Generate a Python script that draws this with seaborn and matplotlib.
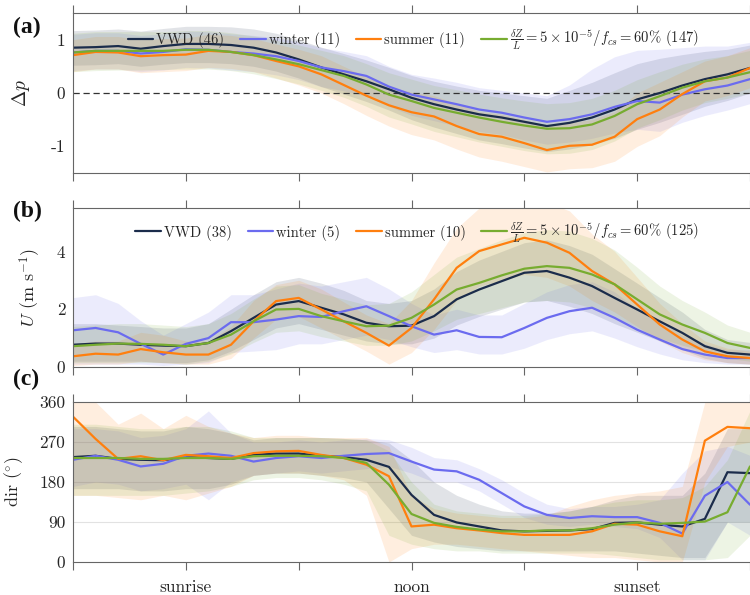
import numpy as np
import pandas as pd
import matplotlib
matplotlib.use("Agg")
import matplotlib.pyplot as plt
import seaborn as sns

# ---------------- data ----------------
hours = [0.8 * i for i in range(31)]
xtick_pos = [0, 4, 8, 12, 16, 20, 24]
xtick_lab = ["", "sunrise", "", "noon", "", "sunset", ""]

series_names = ["VWD", "winter", "summer", "green"]
colors = {"VWD": "#1b2c4b", "winter": "#6b6bef", "summer": "#ff7f0e", "green": "#77ac30"}

labels_a = ["VWD (46)", "winter (11)", "summer (11)",
            r"$\frac{\delta Z}{L} = 5\times10^{-5}/f_{cs} = 60\%$ (147)"]
labels_b = ["VWD (38)", "winter (5)", "summer (10)",
            r"$\frac{\delta Z}{L} = 5\times10^{-5}/f_{cs} = 60\%$ (125)"]

# panel (a): Delta p
vwd_a = [0.85,0.86,0.88,0.83,0.88,0.92,0.92,0.90,0.85,0.76,0.63,0.48,0.35,0.22,0.07,-0.09,-0.21,-0.31,-0.40,-0.46,-0.54,-0.62,-0.56,-0.46,-0.31,-0.12,0.00,0.14,0.26,0.35,0.47]
vwd_a_lo = [0.52,0.53,0.55,0.50,0.54,0.57,0.57,0.55,0.50,0.41,0.28,0.12,-0.02,-0.16,-0.32,-0.50,-0.64,-0.76,-0.88,-0.95,-1.03,-1.10,-1.05,-0.97,-0.85,-0.68,-0.55,-0.40,-0.25,-0.14,0.00]
vwd_a_hi = [1.17,1.18,1.20,1.16,1.21,1.25,1.25,1.24,1.20,1.12,1.00,0.86,0.74,0.62,0.48,0.33,0.22,0.13,0.05,0.00,-0.05,-0.10,0.05,0.20,0.38,0.55,0.65,0.72,0.78,0.82,0.90]
win_a = [0.76,0.79,0.79,0.74,0.77,0.82,0.81,0.77,0.74,0.69,0.60,0.48,0.41,0.32,0.12,-0.03,-0.12,-0.21,-0.31,-0.37,-0.46,-0.54,-0.49,-0.40,-0.26,-0.15,-0.18,-0.03,0.07,0.14,0.26]
win_a_lo = [0.42,0.45,0.45,0.40,0.43,0.48,0.47,0.43,0.40,0.34,0.25,0.12,0.04,-0.06,-0.25,-0.42,-0.52,-0.62,-0.72,-0.78,-0.88,-0.96,-0.92,-0.85,-0.75,-0.68,-0.72,-0.55,-0.42,-0.32,-0.20]
win_a_hi = [1.10,1.13,1.13,1.08,1.11,1.16,1.15,1.11,1.08,1.04,0.96,0.85,0.78,0.70,0.50,0.35,0.28,0.20,0.10,0.05,0.00,-0.05,0.15,0.45,0.68,0.80,0.82,0.85,0.88,0.88,0.95]
sum_a = [0.71,0.77,0.76,0.69,0.71,0.72,0.79,0.77,0.71,0.60,0.50,0.35,0.15,-0.05,-0.23,-0.36,-0.44,-0.62,-0.77,-0.82,-0.94,-1.07,-0.99,-0.97,-0.82,-0.49,-0.31,-0.02,0.22,0.29,0.47]
sum_a_lo = [0.40,0.45,0.45,0.38,0.40,0.42,0.48,0.46,0.40,0.28,0.15,0.00,-0.20,-0.42,-0.62,-0.78,-0.88,-1.05,-1.20,-1.28,-1.38,-1.48,-1.42,-1.40,-1.28,-1.00,-0.80,-0.45,-0.15,-0.05,0.10]
sum_a_hi = [1.00,1.06,1.06,1.00,1.02,1.03,1.10,1.08,1.02,0.92,0.82,0.70,0.50,0.30,0.12,0.02,-0.05,-0.20,-0.35,-0.40,-0.50,-0.62,-0.55,-0.50,-0.35,0.00,0.20,0.40,0.60,0.70,0.85]
grn_a = [0.76,0.79,0.79,0.79,0.79,0.81,0.81,0.77,0.71,0.63,0.54,0.43,0.32,0.16,-0.03,-0.15,-0.28,-0.37,-0.46,-0.54,-0.61,-0.67,-0.66,-0.59,-0.43,-0.21,-0.06,0.10,0.22,0.29,0.39]
grn_a_lo = [0.40,0.42,0.43,0.43,0.44,0.45,0.45,0.42,0.36,0.27,0.17,0.05,-0.08,-0.25,-0.45,-0.58,-0.72,-0.82,-0.92,-1.00,-1.08,-1.14,-1.13,-1.06,-0.90,-0.66,-0.50,-0.32,-0.18,-0.10,0.00]
grn_a_hi = [1.12,1.15,1.15,1.15,1.15,1.17,1.17,1.13,1.07,0.99,0.90,0.80,0.70,0.55,0.38,0.26,0.14,0.06,-0.02,-0.09,-0.15,-0.20,-0.18,-0.10,0.05,0.25,0.40,0.54,0.64,0.70,0.80]

# panel (b): U (m/s)
vwd_b = [0.77,0.81,0.81,0.77,0.74,0.72,0.83,1.24,1.70,2.16,2.28,2.05,1.82,1.53,1.41,1.43,1.76,2.34,2.68,2.97,3.26,3.32,3.09,2.80,2.39,1.99,1.58,1.18,0.72,0.49,0.43]
vwd_b_lo = [0.20,0.20,0.20,0.20,0.15,0.15,0.25,0.55,0.95,1.35,1.50,1.30,1.10,0.90,0.80,0.80,1.00,1.45,1.75,2.00,2.25,2.30,2.10,1.85,1.50,1.20,0.90,0.60,0.30,0.15,0.10]
vwd_b_hi = [1.50,1.50,1.45,1.40,1.35,1.35,1.50,2.00,2.50,2.95,3.10,2.90,2.65,2.30,2.20,2.30,2.70,3.30,3.70,4.00,4.30,4.40,4.20,3.90,3.40,2.90,2.40,1.90,1.30,0.95,0.85]
win_b = [1.27,1.35,1.20,0.80,0.43,0.80,1.00,1.55,1.55,1.64,1.76,1.73,1.93,2.10,1.76,1.41,1.12,1.27,1.04,1.03,1.35,1.70,1.93,2.05,1.70,1.29,0.95,0.62,0.43,0.31,0.31]
win_b_lo = [0.10,0.10,0.10,0.10,0.05,0.10,0.15,0.50,0.55,0.60,0.80,0.80,0.95,1.10,0.95,0.70,0.50,0.60,0.45,0.45,0.65,0.95,1.15,1.25,1.00,0.70,0.45,0.25,0.15,0.10,0.10]
win_b_hi = [2.40,2.50,2.20,1.60,1.10,1.50,1.90,2.50,2.50,2.70,2.90,2.80,2.95,3.10,2.70,2.20,1.80,2.00,1.80,1.80,2.20,2.60,2.85,2.95,2.60,2.00,1.60,1.10,0.80,0.60,0.60]
sum_b = [0.37,0.46,0.43,0.62,0.51,0.43,0.43,0.77,1.58,2.28,2.39,1.99,1.58,1.18,0.74,1.35,2.34,3.43,4.01,4.24,4.47,4.30,3.95,3.32,2.86,2.16,1.47,0.95,0.54,0.37,0.31]
sum_b_lo = [0.05,0.10,0.10,0.20,0.15,0.10,0.10,0.30,1.00,1.65,1.75,1.35,0.95,0.55,0.10,0.50,1.30,2.30,2.80,3.00,3.20,3.10,2.80,2.30,1.90,1.40,0.90,0.50,0.25,0.15,0.10]
sum_b_hi = [0.80,0.90,0.90,1.20,1.10,0.90,0.90,1.40,2.30,2.85,3.00,2.70,2.25,1.80,1.50,2.30,3.60,4.80,5.50,5.60,5.80,5.70,5.40,4.60,4.00,3.10,2.20,1.50,0.90,0.65,0.55]
grn_b = [0.72,0.77,0.81,0.80,0.77,0.72,0.83,1.12,1.58,1.99,2.01,1.76,1.58,1.41,1.43,1.70,2.16,2.68,2.91,3.17,3.40,3.49,3.43,3.20,2.86,2.34,1.82,1.47,1.18,0.83,0.66]
grn_b_lo = [0.15,0.15,0.15,0.15,0.15,0.10,0.20,0.45,0.85,1.20,1.25,1.05,0.90,0.75,0.75,0.90,1.25,1.65,1.85,2.05,2.25,2.30,2.25,2.05,1.75,1.35,1.00,0.75,0.55,0.30,0.20]
grn_b_hi = [1.40,1.45,1.50,1.50,1.45,1.40,1.50,1.85,2.35,2.80,2.85,2.55,2.35,2.15,2.20,2.60,3.20,3.80,4.10,4.40,4.65,4.75,4.70,4.45,4.05,3.45,2.80,2.30,1.90,1.45,1.20]

# panel (c): direction (deg)
vwd_c = [236,239,232,230,229,236,234,232,241,244,244,239,236,230,214,151,106,89,80,71,69,70,71,74,88,89,84,80,97,202,200]
vwd_c_lo = [165,165,165,160,160,165,165,175,195,200,200,195,190,180,120,60,45,35,30,25,25,25,25,25,25,20,15,10,10,90,90]
vwd_c_hi = [305,305,300,295,295,305,300,290,275,280,280,280,278,275,268,230,180,150,130,115,110,110,115,125,140,150,150,150,200,300,300]
win_c = [230,239,230,215,221,239,244,239,226,234,238,234,239,243,245,226,208,204,185,155,125,106,99,103,101,101,88,64,149,180,129]
win_c_lo = [170,180,175,160,165,175,140,180,195,200,205,200,205,210,215,200,180,180,160,130,100,85,80,85,80,75,55,5,5,90,60]
win_c_hi = [300,300,295,280,285,300,340,290,270,270,275,270,275,278,275,258,235,230,210,185,155,130,120,125,125,130,140,200,250,260,240]
sum_c = [327,277,232,238,229,241,238,234,245,249,250,241,234,219,193,80,84,76,71,65,61,61,61,69,86,84,69,58,273,304,301]
sum_c_lo = [150,150,145,140,150,140,155,170,195,200,200,195,185,150,0,30,40,40,35,30,25,20,15,10,10,5,0,0,180,260,270]
sum_c_hi = [360,360,310,335,300,330,305,290,280,285,285,280,280,280,260,150,120,110,105,100,100,105,125,140,150,155,160,170,360,360,360]
grn_c = [234,234,234,232,232,234,234,232,238,239,239,238,234,223,174,108,88,79,73,69,69,71,71,76,84,89,86,88,91,112,215]
grn_c_lo = [150,150,150,150,150,155,160,170,185,190,190,185,175,160,60,40,30,25,25,20,20,20,20,20,15,10,5,5,5,10,60]
grn_c_hi = [310,310,305,300,300,305,305,295,280,280,280,280,278,275,250,180,130,115,110,105,105,108,115,125,135,140,140,145,170,230,340]

# ---------------- style ----------------
sns.set_theme(style="white")
plt.rcParams.update({
    "font.family": "serif",
    "font.serif": ["cmr10", "DejaVu Serif"],
    "mathtext.fontset": "cm",
    "axes.unicode_minus": False,
    "axes.formatter.use_mathtext": True,
    "text.color": "#262626",
    "axes.labelcolor": "#262626",
    "xtick.color": "#666666",
    "ytick.color": "#666666",
    "xtick.labelcolor": "#262626",
    "ytick.labelcolor": "#262626",
})

fig = plt.figure(figsize=(7.5, 5.95), dpi=100)
L, W = 73 / 750, 677 / 750
ax_a = fig.add_axes([L, 1 - 173 / 595, W, 160 / 595])
ax_b = fig.add_axes([L, 1 - 367 / 595, W, 159 / 595])
ax_c = fig.add_axes([L, 1 - 562 / 595, W, 160 / 595])

panels = [
    (ax_a, [(vwd_a, vwd_a_lo, vwd_a_hi), (win_a, win_a_lo, win_a_hi),
            (sum_a, sum_a_lo, sum_a_hi), (grn_a, grn_a_lo, grn_a_hi)], labels_a),
    (ax_b, [(vwd_b, vwd_b_lo, vwd_b_hi), (win_b, win_b_lo, win_b_hi),
            (sum_b, sum_b_lo, sum_b_hi), (grn_b, grn_b_lo, grn_b_hi)], labels_b),
    (ax_c, [(vwd_c, vwd_c_lo, vwd_c_hi), (win_c, win_c_lo, win_c_hi),
            (sum_c, sum_c_lo, sum_c_hi), (grn_c, grn_c_lo, grn_c_hi)], None),
]

for ax, data, labs in panels:
    for name, (m, lo, hi) in zip(series_names, data):
        ax.fill_between(hours, lo, hi, color=colors[name], alpha=0.13, lw=0)
    for k, (name, (m, lo, hi)) in enumerate(zip(series_names, data)):
        df = pd.DataFrame({"h": hours, "v": m})
        sns.lineplot(data=df, x="h", y="v", ax=ax, color=colors[name], lw=1.6,
                     label=(labs[k] if labs else None), legend=False)
    ax.set_xlim(0, 24)
    ax.set_xticks(xtick_pos)
    ax.set_xlabel("")
    ax.tick_params(axis="x", which="both", top=True, bottom=True, direction="out",
                   length=5.5, width=0.8, labelsize=12.5)
    ax.tick_params(axis="y", direction="out", length=2.5, width=0.8, labelsize=12.5, pad=3)
    ax.spines["right"].set_visible(False)
    for s in ["left", "top", "bottom"]:
        ax.spines[s].set_color("#666666")
        ax.spines[s].set_linewidth(0.8)
    if ax is ax_c:
        ax.set_xticklabels(xtick_lab)
    else:
        ax.set_xticklabels([])
    ax.set_axisbelow(True)

# panel a
ax_a.set_ylim(-1.5, 1.5)
ax_a.set_yticks([-1, 0, 1])
ax_a.set_yticklabels(["-1", "0", "1"])
ax_a.axhline(0, color="#333333", lw=0.9, ls=(0, (5, 3)), zorder=1.5)
ax_a.set_ylabel(r"$\Delta p$", fontsize=14)
ax_a.yaxis.set_label_coords(-0.061, 0.5)

# panel b
ax_b.set_ylim(0, 5.5)
ax_b.set_yticks([0, 2, 4])
ax_b.set_yticklabels(["0", "2", "4"])
ax_b.set_ylabel(r"$U$ (m s$^{-1}$)", fontsize=13)
ax_b.yaxis.set_label_coords(-0.044, 0.5)

# panel c
ax_c.set_ylim(0, 360)
ax_c.set_yticks([0, 90, 180, 270, 360])
ax_c.set_yticklabels(["0", "90", "180", "270", "360"])
for g in [90, 180, 270]:
    ax_c.axhline(g, color="#e2e2e2", lw=0.8, zorder=0.5)
ax_c.set_ylabel(r"dir ($^{\circ}$)", fontsize=13)
ax_c.yaxis.set_label_coords(-0.071, 0.5)
ax_c.tick_params(axis="x", pad=7)

# legends
for ax, xa, ya in [(ax_a, 0.081, 0.83), (ax_b, 0.092, 0.843)]:
    h, l = ax.get_legend_handles_labels()
    ax.legend(h, l, loc="center left", bbox_to_anchor=(xa, ya), ncol=4, frameon=False,
              fontsize=10.5, handlelength=1.75, handletextpad=0.2, columnspacing=1.1,
              borderpad=0, borderaxespad=0)

# panel letters
for txt, yb in [("(a)", 33), ("(b)", 217), ("(c)", 385)]:
    fig.text(13 / 750, 1 - yb / 595, txt, fontsize=17, fontweight="bold",
             family="Liberation Serif", ha="left", va="baseline", color="#111111")

fig.savefig("out.png", dpi=100)
